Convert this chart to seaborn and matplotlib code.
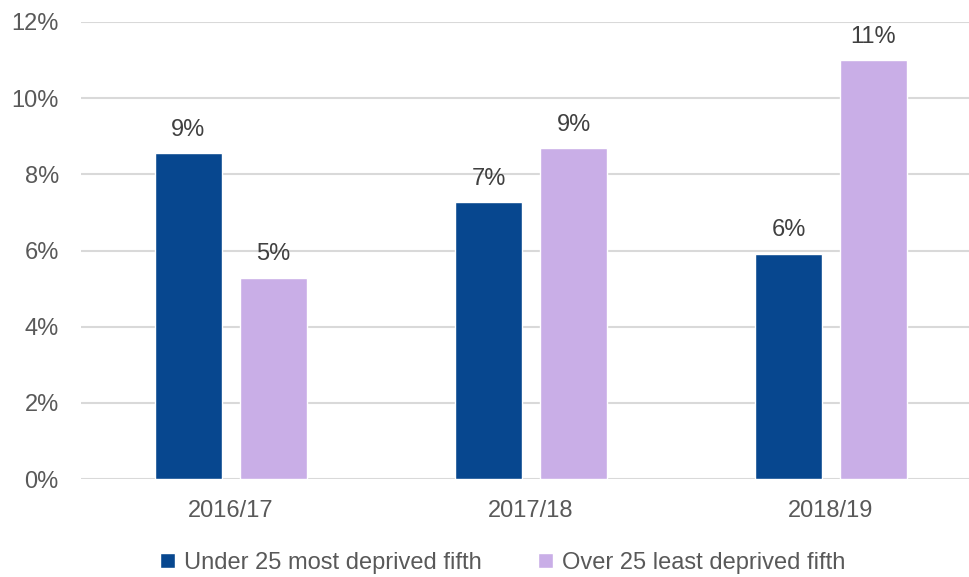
import matplotlib
matplotlib.use("Agg")
import matplotlib.pyplot as plt
import seaborn as sns
import pandas as pd
from matplotlib.patches import Patch

categories = ["2016/17", "2017/18", "2018/19"]
series_names = ["Under 25 most deprived fifth", "Over 25 least deprived fifth"]
under25 = [8.56, 7.27, 5.91]
over25 = [5.28, 8.69, 11.0]
yticks = [0, 2, 4, 6, 8, 10, 12]

colors = ["#07478F", "#C9AEE7"]
text_color = "#595959"

sns.set_theme(style="white")
plt.rcParams["font.family"] = ["Liberation Sans", "DejaVu Sans"]

df = pd.DataFrame({
    "year": categories * 2,
    "value": under25 + over25,
    "series": [series_names[0]] * 3 + [series_names[1]] * 3,
})

fig = plt.figure(figsize=(9.69, 5.77), dpi=100)
ax = fig.add_axes([0.0836, 0.1698, 0.9288, 0.7921])

sns.barplot(data=df, x="year", y="value", hue="series", palette=colors,
            width=0.567, gap=0.21, ax=ax, legend=False, saturation=1,
            errorbar=None)

ax.set_ylim(0, 12)
ax.set_xlim(-0.5, 2.5)
ax.set_yticks(yticks)
ax.set_yticklabels([f"{t}%" for t in yticks])
ax.yaxis.grid(True, color="#D9D9D9", linewidth=1.5)
ax.set_axisbelow(True)
for s in ax.spines.values():
    s.set_visible(False)
ax.set_xlabel("")
ax.set_ylabel("")
ax.tick_params(axis="both", length=0, labelsize=17, colors=text_color)
ax.tick_params(axis="x", pad=15)
ax.tick_params(axis="y", pad=16)

for cont in ax.containers:
    ax.bar_label(cont, labels=[f"{v:.0f}%" for v in cont.datavalues],
                 padding=9, fontsize=17, color="#404040")

handles = [Patch(facecolor=c, label=n) for c, n in zip(colors, series_names)]
fig.legend(handles=handles, loc="lower center", bbox_to_anchor=(0.519, -0.032),
           ncol=2, frameon=False, fontsize=17, handlelength=0.6,
           handleheight=0.6, handletextpad=0.4, columnspacing=2.4,
           labelcolor=text_color)

fig.savefig("out.png", dpi=100)
